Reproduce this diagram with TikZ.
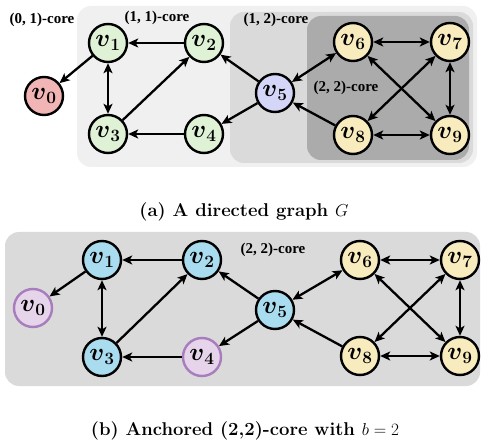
\documentclass[tikz,border=0pt]{standalone}
\usepackage{amsmath}
\usepackage{fontspec}
\newfontfamily\labelfont{Liberation Serif}
\usetikzlibrary{arrows.meta}

\definecolor{redfill}{HTML}{F2B5B5}
\definecolor{greenfill}{HTML}{DFF2D6}
\definecolor{lavfill}{HTML}{D5D6F7}
\definecolor{yelfill}{HTML}{F8EBBE}
\definecolor{bluefill}{HTML}{A9DCEF}
\definecolor{purpfill}{HTML}{E6D5EA}
\definecolor{purpline}{HTML}{A77DBE}
\definecolor{coreA}{HTML}{F0F0F0}
\definecolor{coreB}{HTML}{DADADA}
\definecolor{coreC}{HTML}{ABABAB}

% vertex label v_i in bold math italic
\newcommand{\vlab}[1]{\fontsize{27}{27}\selectfont$\boldsymbol{v}_{\boldsymbol{#1}}$}

\tikzset{
  vtx/.style={circle, draw=black, line width=2.4pt, minimum size=38pt, inner sep=0pt},
  anchorvtx/.style={vtx, draw=purpline, fill=purpfill},
  corelabel/.style={font=\labelfont\bfseries\fontsize{15}{15}\selectfont, inner sep=0pt},
  caption/.style={font=\bfseries\fontsize{18.5}{18.5}\selectfont, inner sep=0pt},
  edge/.style={line width=2.3pt, -{Stealth[length=10pt,width=9pt,inset=2.5pt]}},
  bedge/.style={line width=2.3pt, {Stealth[length=10pt,width=9pt,inset=2.5pt]}-{Stealth[length=10pt,width=9pt,inset=2.5pt]}},
  corebox/.style={rounded corners=14pt}
}

\begin{document}
\begin{tikzpicture}[x=1pt, y=-1pt]
\useasboundingbox (0,0) rectangle (482,446);

% ---------- (a) nested cores ----------
\fill[coreA, corebox] (77,6) rectangle (477,167);
\fill[coreB, corebox] (230,12) rectangle (473,163);
\fill[coreC, corebox] (307,16) rectangle (469,160);

\node[corelabel] (l01) at (42,20) {(0, 1)-core};
\node[corelabel] (l11) at (157,18) {(1, 1)-core};
\node[corelabel] (l12) at (276,20) {(1, 2)-core};
\node[corelabel] (l22a) at (346,88) {(2, 2)-core};

\node[vtx, fill=redfill]   (a0) at (44,96)   {\vlab{0}};
\node[vtx, fill=greenfill] (a1) at (108,43)  {\vlab{1}};
\node[vtx, fill=greenfill] (a2) at (204,43)  {\vlab{2}};
\node[vtx, fill=greenfill] (a3) at (108,134) {\vlab{3}};
\node[vtx, fill=greenfill] (a4) at (204,134) {\vlab{4}};
\node[vtx, fill=lavfill]   (a5) at (275,93)  {\vlab{5}};
\node[vtx, fill=yelfill]   (a6) at (353,42)  {\vlab{6}};
\node[vtx, fill=yelfill]   (a7) at (450,42)  {\vlab{7}};
\node[vtx, fill=yelfill]   (a8) at (353,135) {\vlab{8}};
\node[vtx, fill=yelfill]   (a9) at (450,135) {\vlab{9}};

\draw[edge]  (a1) -- (a0);
\draw[edge]  (a2) -- (a1);
\draw[bedge] (a1) -- (a3);
\draw[edge]  (a3) -- (a2);
\draw[edge]  (a4) -- (a3);
\draw[edge]  (a5) -- (a2);
\draw[edge]  (a5) -- (a4);
\draw[bedge] (a5) -- (a6);
\draw[edge]  (a8) -- (a5);
\draw[bedge] (a6) -- (a7);
\draw[bedge] (a6) -- (a9);
\draw[bedge] (a7) -- (a8);
\draw[bedge] (a7) -- (a9);
\draw[bedge] (a8) -- (a9);

\node[caption] (capa) at (244,212) {(a) A directed graph \mdseries$G$};

% ---------- (b) anchored core ----------
\fill[coreB, corebox] (5,232) rectangle (480,386);
\node[corelabel] (l22b) at (273,250) {(2, 2)-core};

\node[anchorvtx]           (b0) at (33,308)  {\vlab{0}};
\node[vtx, fill=bluefill]  (b1) at (102,260) {\vlab{1}};
\node[vtx, fill=bluefill]  (b2) at (202,260) {\vlab{2}};
\node[vtx, fill=bluefill]  (b3) at (102,357) {\vlab{3}};
\node[anchorvtx]           (b4) at (202,357) {\vlab{4}};
\node[vtx, fill=bluefill]  (b5) at (275,310) {\vlab{5}};
\node[vtx, fill=yelfill]   (b6) at (360,260) {\vlab{6}};
\node[vtx, fill=yelfill]   (b7) at (460,260) {\vlab{7}};
\node[vtx, fill=yelfill]   (b8) at (360,356) {\vlab{8}};
\node[vtx, fill=yelfill]   (b9) at (460,356) {\vlab{9}};

\draw[edge]  (b1) -- (b0);
\draw[edge]  (b2) -- (b1);
\draw[bedge] (b1) -- (b3);
\draw[edge]  (b3) -- (b2);
\draw[edge]  (b4) -- (b3);
\draw[edge]  (b5) -- (b2);
\draw[edge]  (b5) -- (b4);
\draw[bedge] (b5) -- (b6);
\draw[edge]  (b8) -- (b5);
\draw[bedge] (b6) -- (b7);
\draw[bedge] (b6) -- (b9);
\draw[bedge] (b7) -- (b8);
\draw[bedge] (b7) -- (b9);
\draw[bedge] (b8) -- (b9);

\node[caption] (capb) at (245,431) {(b) Anchored (2,2)-core with \mdseries$b=2$};
\end{tikzpicture}
\end{document}
